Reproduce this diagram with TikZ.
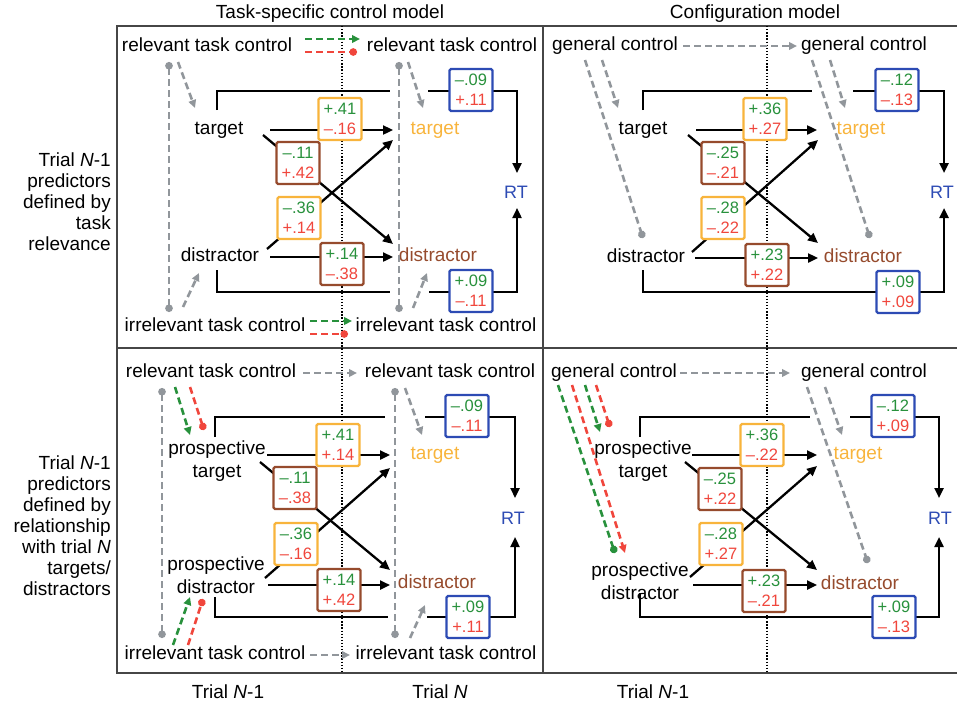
\documentclass[tikz,border=0pt]{standalone}
\usepackage{fontspec}
\setmainfont{Liberation Sans}
\usetikzlibrary{arrows.meta,calc}
\definecolor{cg}{RGB}{40,145,60}
\definecolor{cr}{RGB}{240,70,60}
\definecolor{corange}{RGB}{248,180,60}
\definecolor{cbrown}{RGB}{150,75,45}
\definecolor{cblue}{RGB}{45,75,180}
\definecolor{cgray}{RGB}{145,150,155}
\definecolor{cframe}{RGB}{70,70,70}
\newcommand\numpair[2]{\textcolor{cg}{#1}\\\textcolor{cr}{#2}}
\tikzset{
 lbl/.style={inner sep=0pt, font=\fontsize{19}{21}\selectfont, text height=13.5pt, text depth=4pt},
 lbltwo/.style={inner sep=0pt, font=\fontsize{19}{23}\selectfont, align=center},
 ttl/.style={inner sep=0pt, font=\fontsize{19}{21}\selectfont},
 rowlbl/.style={inner sep=0pt, font=\fontsize{19}{21}\selectfont, align=right, anchor=east},
 rtl/.style={inner sep=0pt, font=\fontsize{18}{20}\selectfont, text=cblue},
 numbox/.style={draw, line width=2.4pt, fill=white, rounded corners=1.5pt, minimum width=43pt, minimum height=42pt, inner sep=0pt, align=center, font=\fontsize{16.5}{20}\selectfont},
 obox/.style={numbox, draw=corange},
 bbox/.style={numbox, draw=cbrown},
 ubox/.style={numbox, draw=cblue},
 arr/.style={line width=2.3pt, -{Triangle[length=10pt,width=9pt]}},
 conn/.style={line width=2.3pt},
 gd/.style={draw=cgray, line width=2.6pt, dash pattern=on 7pt off 4pt},
 garr/.style={gd, -{Triangle[length=8pt,width=7.5pt]}},
 gdot/.style={gd, -{Circle[length=7.5pt]}},
 gboth/.style={gd, {Circle[length=7.5pt]}-{Circle[length=7.5pt]}},
 grarr/.style={draw=cg, line width=2.6pt, dash pattern=on 7pt off 4pt, -{Triangle[length=8pt,width=7.5pt]}},
 grdot/.style={draw=cg, line width=2.6pt, dash pattern=on 7pt off 4pt, -{Circle[length=7.5pt]}},
 rdarr/.style={draw=cr, line width=2.6pt, dash pattern=on 7pt off 4pt, -{Triangle[length=8pt,width=7.5pt]}},
 rddot/.style={draw=cr, line width=2.6pt, dash pattern=on 7pt off 4pt, -{Circle[length=7.5pt]}},
 frame/.style={draw=cframe, line width=1.5pt},
 dotln/.style={draw=black, line width=1.3pt, dash pattern=on 1.3pt off 1.8pt},
}
\begin{document}
\begin{tikzpicture}[x=1pt,y=-1pt]
\useasboundingbox (0,0) rectangle (957,704);
% frame
\draw[frame] (957,26) -- (117,26) -- (117,673) -- (957,673);
\draw[frame] (543,26) -- (543,673);
\draw[frame] (117,348) -- (957,348);
\draw[dotln] (342,26) -- (342,673);
\draw[dotln] (767,26) -- (767,673);
% titles and labels
\node[ttl] (ttlA) at (330,14) {Task-specific control model};
\node[ttl] (ttlB) at (755,14) {Configuration model};
\node[ttl] (trA) at (228,692) {Trial \textit{N}-1};
\node[ttl] (trB) at (440,692) {Trial \textit{N}};
\node[ttl] (trC) at (653,692) {Trial \textit{N}-1};
\node[rowlbl] (rowA) at (111,202) {Trial \textit{N}-1\\predictors\\defined by\\task\\relevance};
\node[rowlbl] (rowB) at (111,526) {Trial \textit{N}-1\\predictors\\defined by\\relationship\\with trial \textit{N}\\targets/\\distractors};

% ===== Panel TL =====
\node[lbl] (rtcA) at (207,47) {relevant task control};
\node[lbl] (rtcB) at (452,47) {relevant task control};
\node[lbl] (itcA) at (215,327) {irrelevant task control};
\node[lbl] (itcB) at (446,327) {irrelevant task control};
\node[lbl] (tA) at (219,130) {target};
\node[lbl, text=corange] (tB) at (435,130) {target};
\node[lbl] (dA) at (220,257) {distractor};
\node[lbl, text=cbrown] (dB) at (438,257) {distractor};
\node[rtl] (rtA) at (516,192) {RT};
\draw[arr] ($(tA)+(51,0)$) -- ($(tB)+(-42,0)$);
\draw[arr] ($(tA)+(44,5)$) -- ($(dB)+(-45,-13)$);
\draw[arr] ($(dA)+(47,-8)$) -- ($(tB)+(-42,10)$);
\draw[arr] ($(dA)+(50,0)$) -- ($(dB)+(-45,0)$);
\draw[conn] ($(tA)+(-2,-20)$) |- ($(rtA)+(-126,-101)$);
\draw[arr] ($(rtA)+(-88,-101)$) -| ($(rtA)+(1,-19)$);
\draw[conn] ($(dA)+(-3,13)$) |- ($(rtA)+(-126,100)$);
\draw[arr] ($(rtA)+(-87,100)$) -| ($(rtA)+(1,16)$);
\draw[gboth] ($(rtcA)+(-38,15)$) -- ($(itcA)+(-46,-15)$);
\draw[garr] ($(rtcA)+(-29,15)$) -- ($(tA)+(-24,-22)$);
\draw[gboth] ($(rtcB)+(-53,15)$) -- ($(itcB)+(-47,-15)$);
\draw[garr] ($(rtcB)+(-44,15)$) -- ($(tB)+(-12,-22)$);
\draw[garr] ($(itcA)+(-32,-20)$) -- ($(dA)+(-21,16)$);
\draw[garr] ($(itcB)+(-33,-19)$) -- ($(dB)+(-11,16)$);
\draw[grarr] ($(rtcA)+(98,-8)$) -- ($(rtcB)+(-92,-8)$);
\draw[rddot] ($(rtcA)+(98,5)$) -- ($(rtcB)+(-95,5)$);
\draw[grarr] ($(itcA)+(95,-6)$) -- ($(itcB)+(-94,-6)$);
\draw[rddot] ($(itcA)+(95,7)$) -- ($(itcB)+(-98,7)$);
\node[obox] (b1) at (340,119) {\numpair{+.41}{–.16}};
\node[bbox] (b2) at (298,163) {\numpair{–.11}{+.42}};
\node[obox] (b3) at (299,218) {\numpair{–.36}{+.14}};
\node[bbox] (b4) at (342,264) {\numpair{+.14}{–.38}};
\node[ubox] (b5) at (471,90) {\numpair{–.09}{+.11}};
\node[ubox] (b6) at (471,291) {\numpair{+.09}{–.11}};

% ===== Panel TR =====
\node[lbl] (gcA) at (615,46) {general control};
\node[lbl] (gcB) at (864,46) {general control};
\node[lbl] (tC) at (643,130) {target};
\node[lbl, text=corange] (tD) at (861,130) {target};
\node[lbl] (dC) at (646,258) {distractor};
\node[lbl, text=cbrown] (dD) at (863,258) {distractor};
\node[rtl] (rtB) at (942,192) {RT};
\draw[arr] ($(tC)+(53,0)$) -- ($(tD)+(-44,0)$);
\draw[arr] ($(tC)+(45,5)$) -- ($(dD)+(-45,-15)$);
\draw[arr] ($(dC)+(46,-6)$) -- ($(tD)+(-43,10)$);
\draw[arr] ($(dC)+(49,0)$) -- ($(dD)+(-45,0)$);
\draw[conn] ($(tC)+(0,-20)$) |- ($(rtB)+(-130,-101)$);
\draw[arr] ($(rtB)+(-89,-101)$) -| ($(rtB)+(2,-19)$);
\draw[arr] ($(dC)+(-3,12)$) |- ($(rtB)+(2,100)$) -- ($(rtB)+(2,16)$);
\draw[garr] ($(gcA)+(68,0)$) -- ($(gcB)+(-67,0)$);
\draw[gdot] ($(gcA)+(-30,14)$) -- ($(dC)+(-3,-20)$);
\draw[garr] ($(gcA)+(-13,14)$) -- ($(tC)+(-25,-22)$);
\draw[gdot] ($(gcB)+(-52,14)$) -- ($(dD)+(7,-20)$);
\draw[garr] ($(gcB)+(-34,14)$) -- ($(tD)+(-16,-22)$);
\node[obox] (b7) at (765,119) {\numpair{+.36}{+.27}};
\node[bbox] (b8) at (723,163) {\numpair{–.25}{–.21}};
\node[obox] (b9) at (723,218) {\numpair{–.28}{–.22}};
\node[bbox] (b10) at (767,265) {\numpair{+.23}{+.22}};
\node[ubox] (b11) at (897,90) {\numpair{–.12}{–.13}};
\node[ubox] (b12) at (898,292) {\numpair{+.09}{+.09}};

% ===== Panel BL =====
\node[lbl] (rtcC) at (211,373) {relevant task control};
\node[lbl] (rtcD) at (450,373) {relevant task control};
\node[lbl] (itcC) at (215,655) {irrelevant task control};
\node[lbl] (itcD) at (446,655) {irrelevant task control};
\node[lbltwo] (ptA) at (217,461.5) {prospective\\target};
\node[lbltwo] (pdA) at (216,575) {prospective\\distractor};
\node[lbl, text=corange] (tE) at (435,455) {target};
\node[lbl, text=cbrown] (dE) at (437,584) {distractor};
\node[rtl] (rtC) at (513,518) {RT};
\draw[arr] ($(ptA)+(50,-6.5)$) -- ($(tE)+(-45,0)$);
\draw[arr] ($(ptA)+(43,0.5)$) -- ($(dE)+(-47,-14)$);
\draw[arr] ($(pdA)+(49,3)$) -- ($(tE)+(-45,13)$);
\draw[arr] ($(pdA)+(52,10)$) -- ($(dE)+(-47,1)$);
\draw[conn] ($(ptA)+(-2,-24.5)$) |- ($(rtC)+(-128,-101)$);
\draw[arr] ($(rtC)+(-88,-101)$) -| ($(rtC)+(2,-20)$);
\draw[conn] ($(pdA)+(-1,22)$) |- ($(rtC)+(-125,99)$);
\draw[arr] ($(rtC)+(-86,99)$) -| ($(rtC)+(2,19)$);
\draw[garr] ($(rtcC)+(92,0)$) -- ($(rtcD)+(-93,0)$);
\draw[garr] ($(itcC)+(95,0)$) -- ($(itcD)+(-96,0)$);
\draw[gboth] ($(rtcC)+(-49,15)$) -- ($(itcC)+(-53,-17)$);
\draw[gboth] ($(rtcD)+(-55,15)$) -- ($(itcD)+(-51,-17)$);
\draw[garr] ($(rtcD)+(-45,15)$) -- ($(tE)+(-13,-20)$);
\draw[garr] ($(itcD)+(-36,-17)$) -- ($(dE)+(-12,21)$);
\draw[grarr] ($(rtcC)+(-36,14)$) -- ($(ptA)+(-27,-26.5)$);
\draw[rddot] ($(rtcC)+(-21,14)$) -- ($(ptA)+(-13,-31.5)$);
\draw[grarr] ($(itcC)+(-42,-10)$) -- ($(pdA)+(-26,22)$);
\draw[rddot] ($(itcC)+(-27,-10)$) -- ($(pdA)+(-13,24)$);
\node[obox] (b13) at (338,445) {\numpair{+.41}{+.14}};
\node[bbox] (b14) at (295,488) {\numpair{–.11}{–.38}};
\node[obox] (b15) at (296,544) {\numpair{–.36}{–.16}};
\node[bbox] (b16) at (339,590) {\numpair{+.14}{+.42}};
\node[ubox] (b17) at (467,416) {\numpair{–.09}{–.11}};
\node[ubox] (b18) at (468,617) {\numpair{+.09}{+.11}};

% ===== Panel BR =====
\node[lbl] (gcC) at (614,373) {general control};
\node[lbl] (gcD) at (864,373) {general control};
\node[lbltwo] (ptB) at (643,461.5) {prospective\\target};
\node[lbltwo] (pdB) at (640,581) {prospective\\distractor};
\node[lbl, text=corange] (tF) at (858,455) {target};
\node[lbl, text=cbrown] (dF) at (860,585) {distractor};
\node[rtl] (rtD) at (940,518) {RT};
\draw[arr] ($(ptB)+(49,-6.5)$) -- ($(tF)+(-41,0)$);
\draw[arr] ($(ptB)+(42,0.5)$) -- ($(dF)+(-43,-15)$);
\draw[arr] ($(pdB)+(50,-4)$) -- ($(tF)+(-41,11)$);
\draw[arr] ($(pdB)+(53,4)$) -- ($(dF)+(-43,0)$);
\draw[conn] ($(ptB)+(-3,-24.5)$) |- ($(rtD)+(-130,-101)$);
\draw[arr] ($(rtD)+(-90,-101)$) -| ($(rtD)+(-1,-20)$);
\draw[arr] ($(pdB)+(0,12)$) |- ($(rtD)+(-1,99)$) -- ($(rtD)+(-1,19)$);
\draw[garr] ($(gcC)+(66,0)$) -- ($(gcD)+(-74,0)$);
\draw[gdot] ($(gcD)+(-57,14)$) -- ($(dF)+(8,-22)$);
\draw[garr] ($(gcD)+(-39,14)$) -- ($(tF)+(-16,-20)$);
\draw[grdot] ($(gcC)+(-56,12)$) -- ($(pdB)+(-25,-28)$);
\draw[rdarr] ($(gcC)+(-42,12)$) -- ($(pdB)+(-15,-28)$);
\draw[grarr] ($(gcC)+(-29,12)$) -- ($(ptB)+(-43,-29.5)$);
\draw[rddot] ($(gcC)+(-18,12)$) -- ($(ptB)+(-33,-34.5)$);
\node[obox] (b19) at (762,445) {\numpair{+.36}{–.22}};
\node[bbox] (b20) at (720,489) {\numpair{–.25}{+.22}};
\node[obox] (b21) at (721,544) {\numpair{–.28}{+.27}};
\node[bbox] (b22) at (764,591) {\numpair{+.23}{–.21}};
\node[ubox] (b23) at (893,416) {\numpair{–.12}{+.09}};
\node[ubox] (b24) at (894,617) {\numpair{+.09}{–.13}};
\end{tikzpicture}
\end{document}
